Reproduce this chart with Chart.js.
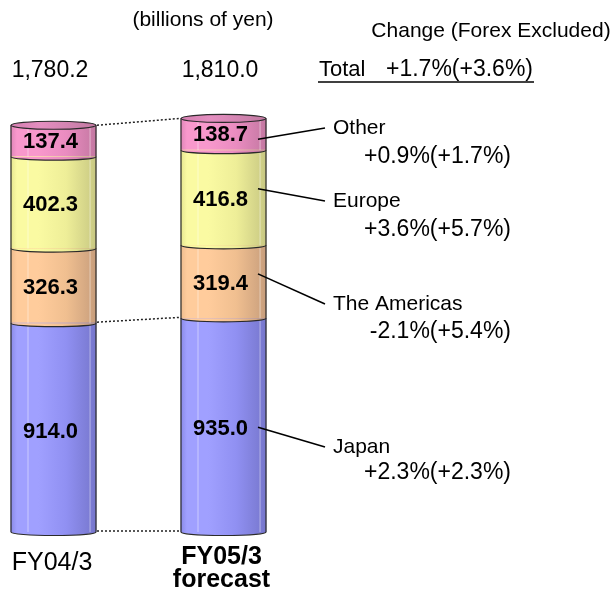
<!DOCTYPE html>
<html><head><meta charset="utf-8">
<script src="https://cdn.jsdelivr.net/npm/chart.js@4.4.1/dist/chart.umd.min.js"></script>
<style>html,body{margin:0;padding:0;background:#fff;}#wrap{width:616px;height:594px;position:relative;}</style>
</head><body><div id="wrap"><canvas id="c" width="616" height="594"></canvas></div>
<script>
// ---------- data ----------
const categories = ['FY04/3', 'FY05/3 forecast'];
const categoryLines = [['FY04/3'], ['FY05/3', 'forecast']];
const regions = ['Japan', 'The Americas', 'Europe', 'Other'];
const japan = [914.0, 935.0];
const americas = [326.3, 319.4];
const europe = [402.3, 416.8];
const other = [137.4, 138.7];
const totals = ['1,780.2', '1,810.0'];
const changes = ['+2.3%(+2.3%)', '-2.1%(+5.4%)', '+3.6%(+5.7%)', '+0.9%(+1.7%)'];
const totalChange = '+1.7%(+3.6%)';
const unitLabel = '(billions of yen)';
const changeTitle = 'Change (Forex Excluded)';

// ---------- style ----------
const FONT = '"Liberation Sans", Arial, Helvetica, sans-serif';
const BAR_W = 85;
const palettes = [
  {edge:'#8a8ae8', light:'#a0a0ff', mid:'#9090f2', dark:'#7676cc'},
  {edge:'#eebc8e', light:'#ffcc9c', mid:'#f0bf90', dark:'#c89e7c'},
  {edge:'#e6e690', light:'#fafaa2', mid:'#eeee98', dark:'#c8c882'},
  {edge:'#e086b8', light:'#f898cc', mid:'#ea8cc0', dark:'#c478a2'}
];
function grad(ctx, x0, x1, p) {
  const g = ctx.createLinearGradient(x0, 0, x1, 0);
  g.addColorStop(0, p.edge);
  g.addColorStop(0.07, p.light);
  g.addColorStop(0.32, p.light);
  g.addColorStop(0.65, p.mid);
  g.addColorStop(1, p.dark);
  return g;
}
function bg(k) {
  return (c) => {
    const ch = c.chart, sx = ch.scales && ch.scales.x;
    if (!sx || c.dataIndex === undefined) return palettes[k].mid;
    const x = sx.getPixelForValue(c.dataIndex);
    if (!isFinite(x)) return palettes[k].mid;
    return grad(ch.ctx, x - BAR_W / 2, x + BAR_W / 2, palettes[k]);
  };
}
const series = [japan, americas, europe, other];

const cylinder = {
  id: 'cylinder',
  afterDatasetsDraw(chart) {
    const ctx = chart.ctx;
    const metas = series.map((_, i) => chart.getDatasetMeta(i));
    const n = metas[0].data.length;
    const RY = 3.5;
    const bars = [];
    for (let i = 0; i < n; i++) {
      const els = metas.map(m => m.data[i]);
      const x = els[0].x, w = els[0].width, L = x - w / 2, R = x + w / 2;
      const base = els[0].base, top = els[els.length - 1].y;
      bars.push({x, w, L, R, base, top, jTop: els[0].y});
      ctx.save();
      ctx.strokeStyle = 'rgba(255,255,255,0.45)'; ctx.lineWidth = 1;
      [0.2, 0.93].forEach(f => { ctx.beginPath(); ctx.moveTo(L + w * f, top); ctx.lineTo(L + w * f, base); ctx.stroke(); });
      ctx.strokeStyle = '#2a2a2a'; ctx.lineWidth = 1.2;
      ctx.beginPath(); ctx.ellipse(x, base, w / 2, RY, 0, 0, Math.PI); ctx.closePath();
      ctx.fillStyle = grad(ctx, L, R, palettes[0]); ctx.fill();
      ctx.beginPath(); ctx.ellipse(x, base, w / 2, RY, 0, 0, Math.PI); ctx.stroke();
      for (let k = 1; k < els.length; k++) {
        const yb = els[k].base;
        ctx.beginPath(); ctx.ellipse(x, yb, w / 2, RY, 0, 0, Math.PI); ctx.closePath();
        ctx.fillStyle = grad(ctx, L, R, palettes[k]); ctx.fill();
        ctx.beginPath(); ctx.ellipse(x, yb, w / 2, RY, 0, 0, Math.PI); ctx.stroke();
      }
      ctx.beginPath(); ctx.moveTo(L, top); ctx.lineTo(L, base); ctx.moveTo(R, top); ctx.lineTo(R, base); ctx.stroke();
      ctx.beginPath(); ctx.ellipse(x, top, w / 2, RY + 0.5, 0, 0, 2 * Math.PI);
      const cg = ctx.createLinearGradient(L, 0, R, 0);
      cg.addColorStop(0, '#d47fb0'); cg.addColorStop(0.35, '#e48ec0'); cg.addColorStop(1, '#c27aa2');
      ctx.fillStyle = cg; ctx.fill(); ctx.stroke();
      ctx.restore();
    }
    if (bars.length > 1) {
      const a = bars[0], b = bars[1];
      ctx.save();
      ctx.strokeStyle = '#222'; ctx.lineWidth = 1.5; ctx.setLineDash([2, 2]);
      [[a.top, b.top], [a.jTop - 1, b.jTop - 1], [a.base - 1, b.base - 1]].forEach(([y1, y2]) => {
        ctx.beginPath(); ctx.moveTo(a.R + 1, y1); ctx.lineTo(b.L - 1, y2); ctx.stroke();
      });
      ctx.restore();
    }
  }
};

const annotations = {
  id: 'annotations',
  afterDraw(chart) {
    const ctx = chart.ctx;
    const metas = series.map((_, i) => chart.getDatasetMeta(i));
    ctx.save();
    ctx.fillStyle = '#000';
    ctx.textBaseline = 'middle';
    ctx.font = 'bold 22px ' + FONT; ctx.textAlign = 'center';
    const dy = [4, 2, 2, 1];
    metas.forEach((m, k) => m.data.forEach((el, i) => {
      ctx.fillText(series[k][i].toFixed(1), el.x - 3, (el.y + el.base) / 2 + dy[k]);
    }));
    ctx.font = '23px ' + FONT;
    metas[0].data.forEach((el, i) => ctx.fillText(totals[i], el.x - 3.5, 71));
    ctx.font = '21px ' + FONT;
    ctx.fillText(unitLabel, 203, 20);
    ctx.fillText(changeTitle, 491, 31);
    metas[0].data.forEach((el, i) => {
      const lines = categoryLines[i];
      ctx.font = (i === 1 ? 'bold ' : '') + '25px ' + FONT;
      if (lines.length === 1) ctx.fillText(lines[0], el.x - 1.5, 563);
      else lines.forEach((t, j) => ctx.fillText(t, el.x - 2, 557 + j * 23));
    });
    ctx.textAlign = 'left';
    ctx.font = '22px ' + FONT;
    ctx.fillText('Total', 319, 70);
    ctx.textAlign = 'right';
    ctx.font = '23px ' + FONT;
    ctx.fillText(totalChange, 533, 70);
    ctx.strokeStyle = '#000'; ctx.lineWidth = 1.5;
    ctx.beginPath(); ctx.moveTo(318, 82); ctx.lineTo(534, 82); ctx.stroke();
    const nameY = [447, 304, 201, 128];
    const valueY = [473, 332, 230, 157];
    const startDy = [2, -8, -9, 5];
    const last = metas[0].data.length - 1;
    metas.forEach((m, k) => {
      const el = m.data[last];
      const sx = el.x + el.width / 2 - 8, sy = (el.y + el.base) / 2 + startDy[k];
      ctx.strokeStyle = '#000'; ctx.lineWidth = 1.6;
      ctx.beginPath(); ctx.moveTo(sx, sy); ctx.lineTo(325, nameY[k]); ctx.stroke();
      ctx.textAlign = 'left'; ctx.font = '21px ' + FONT;
      ctx.fillText(regions[k], 333, nameY[k]);
      ctx.textAlign = 'right'; ctx.font = '23px ' + FONT;
      ctx.fillText(changes[k], 511, valueY[k]);
    });
    ctx.restore();
  }
};

new Chart(document.getElementById('c'), {
  type: 'bar',
  data: {
    labels: categories,
    datasets: series.map((d, k) => ({
      label: regions[k], data: d, backgroundColor: bg(k), borderWidth: 0,
      barThickness: BAR_W, clip: false
    }))
  },
  options: {
    responsive: false, animation: false, devicePixelRatio: 1,
    layout: {padding: {left: 53.5, right: 392.5, top: 75, bottom: 62}},
    scales: {
      x: {type: 'category', offset: false, stacked: true, display: false},
      y: {stacked: true, min: 0, max: 2000, display: false}
    },
    plugins: {legend: {display: false}, tooltip: {enabled: false}}
  },
  plugins: [cylinder, annotations]
});
</script></body></html>
